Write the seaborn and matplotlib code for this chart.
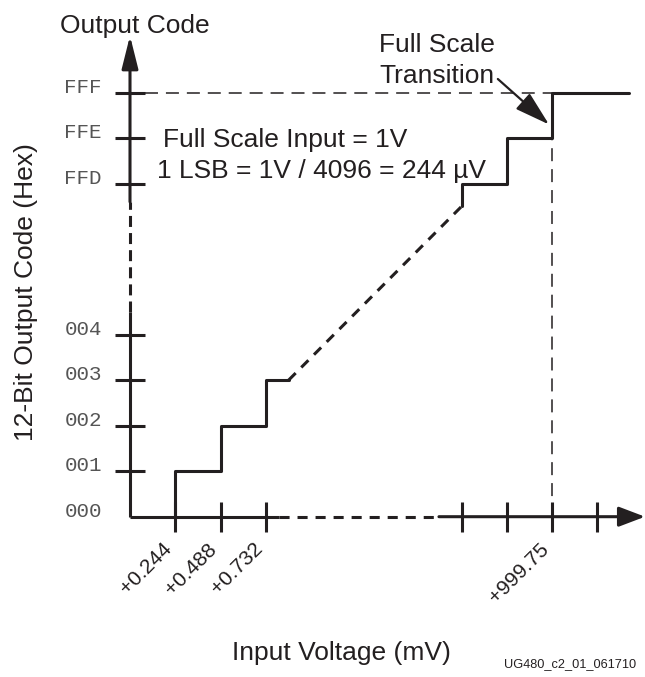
import numpy as np
import matplotlib
matplotlib.use("Agg")
import matplotlib.pyplot as plt
import seaborn as sns

# --- Data (x in LSB steps, y in output code) ---
low_steps = [1, 2, 3]              # transitions to codes 001..003
low_codes = [1, 2, 3]
high_steps = [4093, 4094, 4095]    # transitions to codes FFD..FFF
high_codes = [4093, 4094, 4095]
x_ticks = [1, 2, 3, 4093, 4094, 4095, 4096]
x_tick_labels = ["+0.244", "+0.488", "+0.732", "", "", "+999.75", ""]
y_ticks = [0, 1, 2, 3, 4, 4093, 4094, 4095]
y_tick_labels = ["000", "001", "002", "003", "004", "FFD", "FFE", "FFF"]
full_scale = 4095

# --- broken scale: squeeze everything between the two clusters ---
BREAK_LO, BREAK_HI = 4.5, 4092.5
BREAK_SPAN = 2.32


def fwd(v):
    v = np.asarray(v, dtype=float)
    mid = BREAK_LO + (v - BREAK_LO) * BREAK_SPAN / (BREAK_HI - BREAK_LO)
    return np.where(v <= BREAK_LO, v,
                    np.where(v >= BREAK_HI, v - BREAK_HI + BREAK_LO + BREAK_SPAN, mid))


def inv(s):
    s = np.asarray(s, dtype=float)
    top = BREAK_LO + BREAK_SPAN
    mid = BREAK_LO + (s - BREAK_LO) * (BREAK_HI - BREAK_LO) / BREAK_SPAN
    return np.where(s <= BREAK_LO, s, np.where(s >= top, s - top + BREAK_HI, mid))


W, H = 645, 677
OX, OY = 130, 516.7      # origin in pixels
PX_X, PX_Y = 45.3, 45.5  # pixels per step
INK = "#231f20"

sns.set_theme(style="ticks")
plt.rcParams["font.family"] = ["Liberation Sans", "DejaVu Sans"]

fig = plt.figure(figsize=(W / 100, H / 100), dpi=100)
ax = fig.add_axes([0, 0, 1, 1])
ax.set_xscale("function", functions=(fwd, inv))
ax.set_yscale("function", functions=(fwd, inv))

# staircase, both ends of the code range
sns.lineplot(x=[1] + low_steps + [3.5], y=[0] + low_codes + [3],
             drawstyle="steps-post", estimator=None, sort=False,
             color=INK, lw=2.2, ax=ax)
sns.lineplot(x=[4093] + high_steps + [4096.7], y=[4092.5] + high_codes + [4095],
             drawstyle="steps-post", estimator=None, sort=False,
             color=INK, lw=2.2, ax=ax)
# the skipped middle part of the transfer function
ax.plot([3.5, 4093], [3, 4092.5], color=INK, lw=2.2, dashes=(3.3, 2.6))

# full scale guides
ax.plot([0.33, full_scale], [full_scale, full_scale], color=INK, lw=1.1, dashes=(8.5, 5.2))
ax.plot([full_scale, full_scale], [0, full_scale - 1], color=INK, lw=1.1, dashes=(8.5, 5.2))

# axis lines with breaks
ax.plot([0, 0], [0, 4.5], color=INK, lw=2.2, solid_capstyle="butt")
ax.plot([0, 0], [4.5, 4092.6], color=INK, lw=2.2, dashes=(3.6, 2.0))
ax.plot([0, 3.3], [0, 0], color=INK, lw=2.2, solid_capstyle="butt")
ax.plot([3.3, 4092.5], [0, 0], color=INK, lw=2.2, dashes=(3.3, 2.6))

xlim = inv([(0 - OX) / PX_X, (W - OX) / PX_X])
ylim = inv([-(H - OY) / PX_Y, OY / PX_Y])

ax.annotate("", xy=(0, 4096.25), xytext=(0, 4092.6),
            arrowprops=dict(arrowstyle="-|>,head_length=1.0,head_width=0.25",
                            mutation_scale=20, lw=2.2, color=INK,
                            shrinkA=0, shrinkB=0))
ax.annotate("", xy=(float(xlim[1]), 0), xytext=(4092.5, 0),
            arrowprops=dict(arrowstyle="-|>,head_length=1.0,head_width=0.38",
                            mutation_scale=16, lw=2.2, color=INK,
                            shrinkA=0, shrinkB=0))
# full scale transition pointer
ax.annotate("", xy=(4094.93, 4094.3), xytext=(4093.8, 4095.3),
            arrowprops=dict(arrowstyle="-|>,head_length=1.45,head_width=0.43",
                            mutation_scale=15, lw=1.6, color=INK,
                            shrinkA=0, shrinkB=0))

# ticks sit on the data origin
for s in ax.spines.values():
    s.set_visible(False)
ax.spines["left"].set_position(("data", 0))
ax.spines["bottom"].set_position(("data", 0))

ax.set_xticks(x_ticks, x_tick_labels, rotation=45, ha="right",
              fontsize=15, color=INK)
ax.set_yticks(y_ticks, y_tick_labels, va="baseline", fontsize=15,
              family=["Liberation Mono", "DejaVu Sans Mono"], color="#555555")
ax.tick_params(axis="both", direction="inout", length=21.6, width=2.2,
               color=INK, left=True, bottom=True, top=False, right=False)
ax.tick_params(axis="x", pad=5.5)
ax.tick_params(axis="y", pad=9.4)
ax.yaxis.get_major_ticks()[0].tick1line.set_visible(False)
ax.minorticks_off()

ax.set_xlim(*xlim)
ax.set_ylim(*ylim)
ax.set_xlabel("")
ax.set_ylabel("")
ax.patch.set_alpha(0)


def px(x, y):
    return x / W, 1 - y / H


fig.text(*px(135, 33), "Output Code", ha="center", va="baseline", fontsize=19, color=INK)
fig.text(*px(437, 52), "Full Scale", ha="center", va="baseline", fontsize=19, color=INK)
fig.text(*px(437, 83), "Transition", ha="center", va="baseline", fontsize=19, color=INK)
fig.text(*px(163, 147), "Full Scale Input = 1V", ha="left", va="baseline", fontsize=19, color=INK)
fig.text(*px(157, 178), "1 LSB = 1V / 4096 = 244 µV", ha="left", va="baseline",
         fontsize=19, color=INK)
fig.text(*px(26, 292), "12-Bit Output Code (Hex)", rotation=90, ha="center", va="center",
         fontsize=19, color=INK)
fig.text(*px(341, 660), "Input Voltage (mV)", ha="center", va="baseline", fontsize=19, color=INK)
fig.text(*px(504, 667), "UG480_c2_01_061710", ha="left", va="baseline", fontsize=9.2, color=INK)

fig.savefig("out.png", dpi=100)
